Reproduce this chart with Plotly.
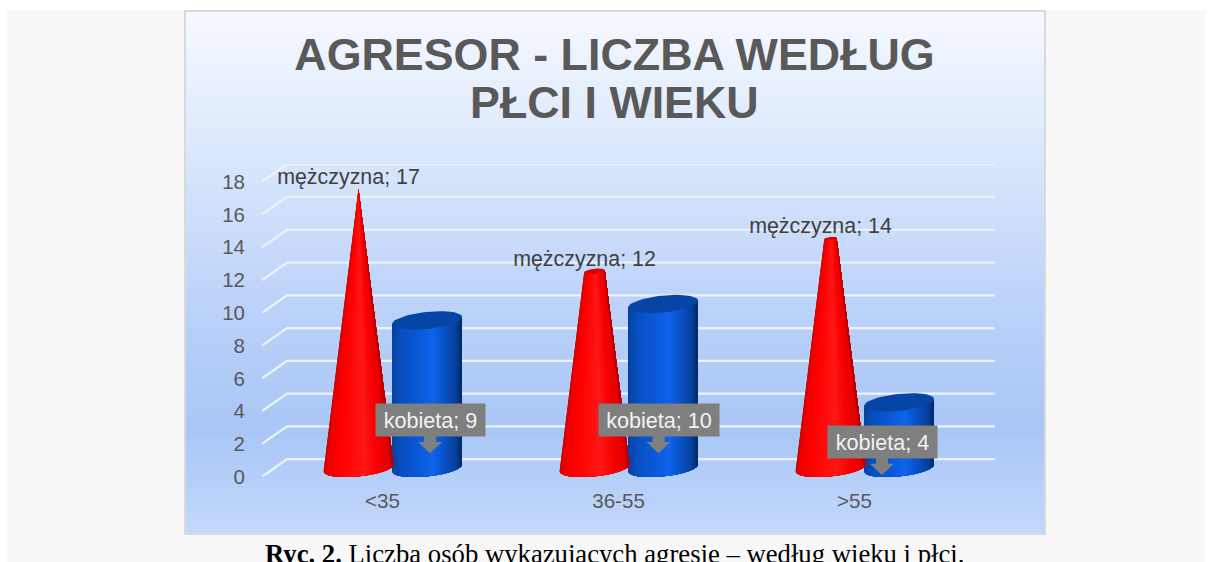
import numpy as np
import plotly.graph_objects as go

categories = ["<35", "36-55", ">55"]
men = [17, 12, 14]
women = [9, 10, 4]
y_ticks = [0, 2, 4, 6, 8, 10, 12, 14, 16, 18]
men_name = "mężczyzna"
women_name = "kobieta"
title_lines = ["AGRESOR - LICZBA WEDŁUG", "PŁCI I WIEKU"]

W, H = 1211, 562
PX = 236.0       # pixels per category
PY = 16.39       # pixels per value unit
X0, X1 = 262, 995
Y_BOTTOM, Y_TOP = 476.7, 164
DEPTH_X = 25 / PX
DEPTH_Y = (Y_BOTTOM - 459.2) / PY
CONE_DX, CYL_DX = -21.5 / PX, 47 / PX
R = 35.0 / PX
B = 8.5 / PY
S = 3.5 / PY
MID = DEPTH_Y / 2
cone_full = max(men)

label_dx = [3, -4.5, -17]
label_y = [3.46, 3.46, 2.14]
label_w = [109, 120, 109]
cat_shift = 2.5 / PX

RED = [(-1, "#c00000"), (-.9, "#ea0000"), (-.6, "#ff0000"), (.15, "#ff1717"), (.55, "#fa0000"), (.88, "#e40000"), (1, "#b40000")]
BLUE = [(-1, "#06409c"), (-.75, "#0850c0"), (-.3, "#0a58d6"), (.15, "#0e64ec"), (.5, "#0a52c6"), (.82, "#07409c"), (1, "#052a6c")]
RED_TOP, BLUE_TOP = "#dc0000", "#0644a6"


def shade(stops, u):
    us = [s[0] for s in stops]
    rgb = [[int(s[1][i:i + 2], 16) for s in stops] for i in (1, 3, 5)]
    return "rgb(%d,%d,%d)" % tuple(np.interp(u, us, c) for c in rgb)


fig = go.Figure()

# panel gradient
grad_stops = [(0, "#f6f9ff"), (.25, "#dde9fc"), (.55, "#bdd3f9"), (.8, "#a8c6f6"), (1, "#c3d8fb")]
fig.add_trace(go.Heatmap(z=np.linspace(1, 0, 260).reshape(-1, 1), x=[0], colorscale=[[a, b] for a, b in grad_stops],
                         zmin=0, zmax=1, showscale=False, hoverinfo="skip", xaxis="x", yaxis="y"))


def add(**kw):
    fig.add_trace(go.Scatter(xaxis="x2", yaxis="y2", showlegend=False, hoverinfo="skip", cliponaxis=False, **kw))


for v in y_ticks:
    add(x=[-.5, -.5 + DEPTH_X, 2.5 + DEPTH_X], y=[v, v + DEPTH_Y, v + DEPTH_Y], mode="lines",
        line=dict(color="#eef2fa", width=2.2))


def solid(cx, value, top_ratio, stops, top_color):
    base = MID
    top = value + MID
    for th in np.linspace(0, np.pi, 36)[:-1]:
        ui = -np.cos(th)
        us = np.linspace(ui, 1, 24)
        rt = np.sqrt(np.clip(1 - us ** 2, 0, 1))
        xb = cx + R * us
        yb = base - B * rt + S * us
        xt = cx + R * top_ratio * us[::-1]
        yt = top + top_ratio * (-B * rt[::-1] + S * us[::-1])
        add(x=np.r_[xb, xt], y=np.r_[yb, yt], mode="lines", fill="toself",
            fillcolor=shade(stops, ui + .03), line=dict(width=0))
    t = np.linspace(0, 2 * np.pi, 60)
    add(x=cx + R * top_ratio * np.cos(t),
        y=top + top_ratio * (B * np.sin(t) + S * np.cos(t)),
        mode="lines", fill="toself", fillcolor=top_color, line=dict(width=0))


for i, v in enumerate(women):
    solid(i + CYL_DX, v, 1, BLUE, BLUE_TOP)
for i, v in enumerate(men):
    solid(i + CONE_DX, v, 1 - v / cone_full, RED, RED_TOP)

# male data labels
add(x=[i + CONE_DX - 10 / PX for i in range(3)], y=[v + MID + .67 for v in men], mode="text",
    text=[f"{men_name}; {v}" for v in men], textposition="middle center",
    textfont=dict(family="Liberation Sans", size=21.4, color="#404040"))

# female callouts
annotations = []
for i, v in enumerate(women):
    cx = i + CYL_DX + label_dx[i] / PX
    yb = label_y[i] - 16 / PY
    ax = np.array([-6, 6, 6, 12, 0, -12, -6, -6]) / PX + cx
    ay = yb - np.array([0, 0, 6, 6, 17.3, 6, 6, 0]) / PY
    add(x=ax, y=ay, mode="lines", fill="toself", fillcolor="#7f7f7f", line=dict(width=0))
    annotations.append(dict(x=cx, y=label_y[i], xref="x2", yref="y2", text=f"{women_name}; {v}", showarrow=False,
                            bgcolor="#7f7f7f", width=label_w[i], height=32, borderpad=0, align="center",
                            font=dict(family="Liberation Sans", size=21.6, color="#f2f2f2")))

annotations.append(dict(x=614.5 / W, y=1 - 102 / H, xref="paper", yref="paper", text=f"<b>{title_lines[1]}</b>",
                        showarrow=False, yanchor="middle", xanchor="center",
                        font=dict(family="Liberation Sans", size=44.8, color="#595959")))
annotations.append(dict(x=615 / W, y=1 - 554 / H, xref="paper", yref="paper",
                        text="<b>Ryc. 2.</b> Liczba osób wykazujących agresję – według wieku i płci.",
                        showarrow=False, yanchor="middle", xanchor="center",
                        font=dict(family="Liberation Serif", size=26.7, color="#000000")))

tick_font = dict(family="Liberation Sans", size=20.5, color="#595959")
cat_font = dict(family="Liberation Sans", size=20.6, color="#595959")
fig.update_layout(
    width=W, height=H, margin=dict(l=0, r=0, t=0, b=0, autoexpand=False), paper_bgcolor="#ffffff", plot_bgcolor="rgba(0,0,0,0)",
    title=dict(text=f"<b>{title_lines[0]}</b>", x=614.5 / W, y=1 - 54 / H, xanchor="center", yanchor="middle",
               xref="paper", yref="paper", pad=dict(t=0, b=0, l=0, r=0),
               font=dict(family="Liberation Sans", size=44.8, color="#595959")),
    showlegend=False,
    xaxis=dict(domain=[184 / W, 1045 / W], visible=False, fixedrange=True, automargin=False),
    yaxis=dict(domain=[1 - 534 / H, 1 - 10 / H], visible=False, fixedrange=True, automargin=False),
    xaxis2=dict(domain=[X0 / W, X1 / W], range=[-.5, 2.5 + DEPTH_X], anchor="y2", tickmode="array", automargin=False,
                tickvals=[i + cat_shift for i in range(3)], ticktext=categories, showgrid=False, zeroline=False,
                showline=False, ticks="", tickfont=cat_font, ticklabelstandoff=10),
    yaxis2=dict(domain=[1 - Y_BOTTOM / H, 1 - Y_TOP / H], range=[0, (Y_BOTTOM - Y_TOP) / PY], anchor="x2", automargin=False,
                tickmode="array", tickvals=y_ticks, showgrid=False, zeroline=False, showline=False,
                ticks="", tickfont=tick_font, ticklabelstandoff=16),
    shapes=[
        dict(type="rect", xref="paper", yref="paper", x0=7 / W, x1=1205 / W, y0=0, y1=1 - 10 / H,
             fillcolor="#f8f8f8", line_width=0, layer="below"),
        dict(type="rect", xref="paper", yref="paper", x0=185 / W, x1=1045 / W, y0=1 - 534 / H, y1=1 - 11 / H,
             fillcolor="rgba(0,0,0,0)", line=dict(color="#d9d9d9", width=2), layer="above"),
    ],
    annotations=annotations,
)

fig.write_html("out.html", config=dict(displayModeBar=False),
               post_script="document.body.style.margin='0';document.body.style.overflow='hidden';")
